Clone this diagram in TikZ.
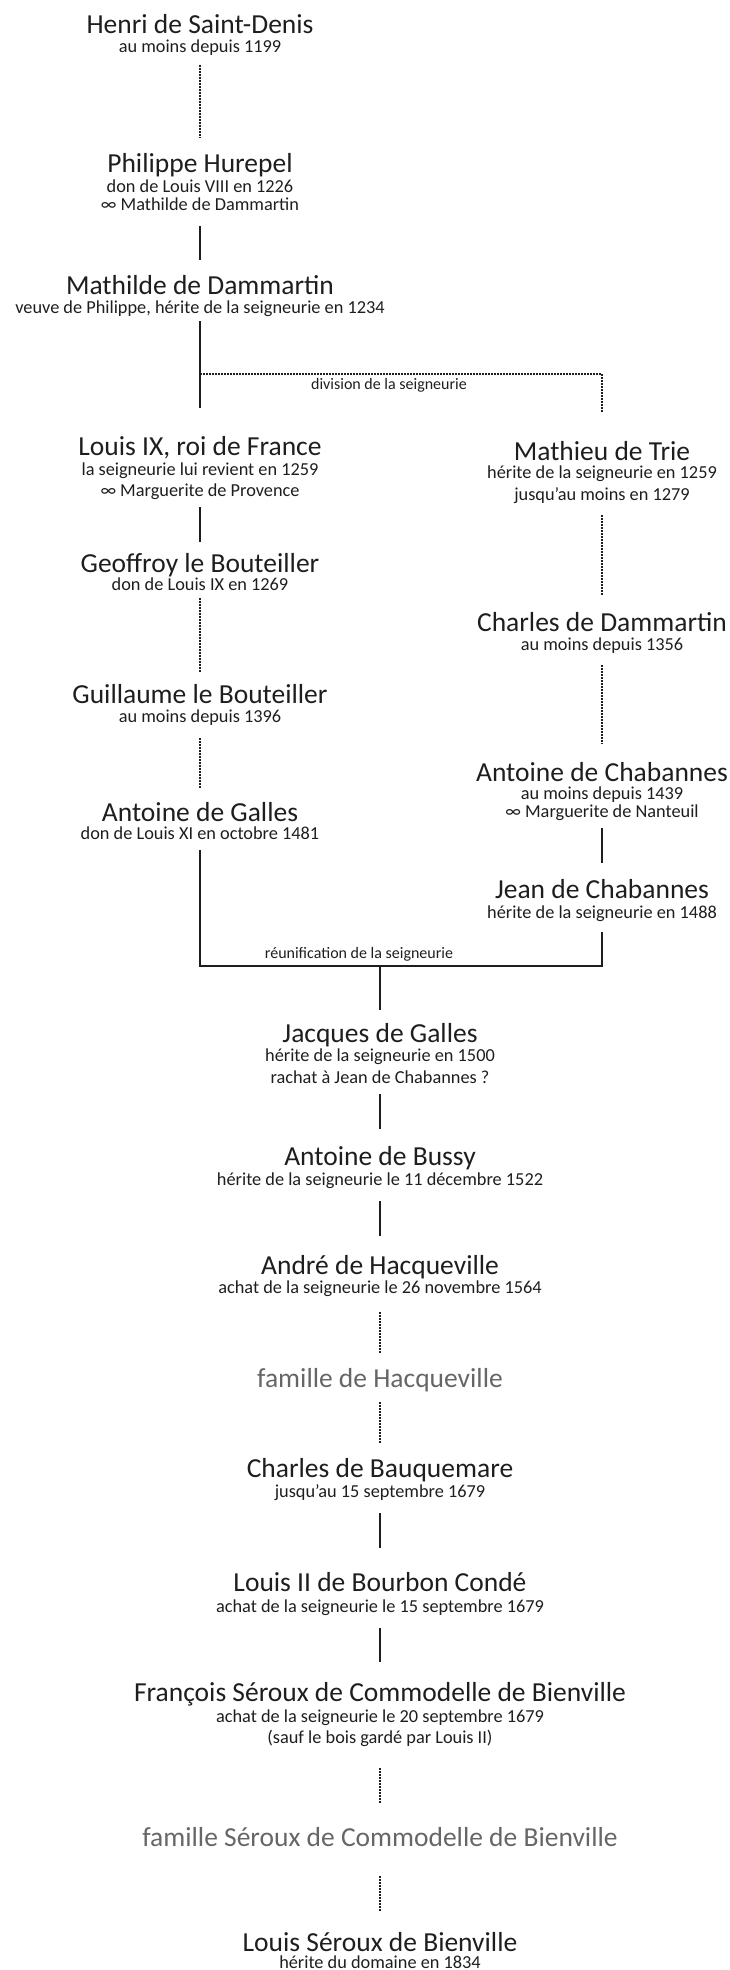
\documentclass[tikz,border=0pt]{standalone}
\usepackage{fontspec}
\setmainfont{Carlito}
\definecolor{ink}{HTML}{1E1E1E}
\definecolor{famgray}{HTML}{666666}
\tikzset{
  ttl/.style={font=\fontsize{27.5}{30}\selectfont, text=ink, inner sep=0pt, outer sep=0pt,
              anchor=base, text height=19pt, text depth=6pt},
  fam/.style={ttl, text=famgray},
  sub/.style={font=\fontsize{18.3}{20}\selectfont, text=ink, inner sep=0pt, outer sep=0pt,
              anchor=base, text height=13pt, text depth=4.5pt},
  lbl/.style={font=\fontsize{16}{18}\selectfont, text=ink, inner sep=0pt, outer sep=0pt,
              anchor=base, text height=11.5pt, text depth=3.8pt},
  solidline/.style={draw=ink, line width=1.3pt},
  dotline/.style={draw=ink, line width=1.2pt, dash pattern=on 1.5pt off 1.5pt},
}
\begin{document}
\begin{tikzpicture}[x=1pt, y=-1pt]
\useasboundingbox (0,0) rectangle (729,1970);

% ---------- left column ----------
\node[ttl] (henri) at (200,33) {Henri de Saint-Denis};
\node[sub] (henri1) at (200,52.5) {au moins depuis 1199};

\node[ttl] (philippe) at (200,172) {Philippe Hurepel};
\node[sub] (philippe1) at (200,192.5) {don de Louis VIII en 1226};
\node[sub] (philippe2) at (200,210) {∞ Mathilde de Dammartin};

\node[ttl] (mathilde) at (200,294) {Mathilde de Dammartin};
\node[sub] (mathilde1) at (200,313.5) {veuve de Philippe, hérite de la seigneurie en 1234};

\node[lbl] (division) at (389,389) {division de la seigneurie};

\node[ttl] (louis9) at (200,455) {Louis IX, roi de France};
\node[sub] (louis91) at (200,475) {la seigneurie lui revient en 1259};
\node[sub] (louis92) at (200,496) {∞ Marguerite de Provence};

\node[ttl] (geoffroy) at (200,572) {Geoffroy le Bouteiller};
\node[sub] (geoffroy1) at (200,590) {don de Louis IX en 1269};

\node[ttl] (guillaume) at (200,703) {Guillaume le Bouteiller};
\node[sub] (guillaume1) at (200,722) {au moins depuis 1396};

\node[ttl] (antoineg) at (200,821) {Antoine de Galles};
\node[sub] (antoineg1) at (200,839) {don de Louis XI en octobre 1481};

% ---------- right column ----------
\node[ttl] (mathieu) at (602,460) {Mathieu de Trie};
\node[sub] (mathieu1) at (602,478) {hérite de la seigneurie en 1259};
\node[sub] (mathieu2) at (602,500) {jusqu’au moins en 1279};

\node[ttl] (charles) at (602,631) {Charles de Dammartin};
\node[sub] (charles1) at (602,650) {au moins depuis 1356};

\node[ttl] (antoinec) at (602,781) {Antoine de Chabannes};
\node[sub] (antoinec1) at (602,799) {au moins depuis 1439};
\node[sub] (antoinec2) at (602,817) {∞ Marguerite de Nanteuil};

\node[ttl] (jean) at (602,898) {Jean de Chabannes};
\node[sub] (jean1) at (602,918) {hérite de la seigneurie en 1488};

\node[lbl] (reunif) at (359,958) {réunification de la seigneurie};

% ---------- centre column ----------
\node[ttl] (jacques) at (380,1042) {Jacques de Galles};
\node[sub] (jacques1) at (380,1061) {hérite de la seigneurie en 1500};
\node[sub] (jacques2) at (380,1083) {rachat à Jean de Chabannes ?};

\node[ttl] (bussy) at (380,1165) {Antoine de Bussy};
\node[sub] (bussy1) at (380,1185) {hérite de la seigneurie le 11 décembre 1522};

\node[ttl] (andre) at (380,1274) {André de Hacqueville};
\node[sub] (andre1) at (380,1293) {achat de la seigneurie le 26 novembre 1564};

\node[fam] (famhac) at (380,1387) {famille de Hacqueville};

\node[ttl] (bauquemare) at (380,1477) {Charles de Bauquemare};
\node[sub] (bauquemare1) at (380,1497) {jusqu’au 15 septembre 1679};

\node[ttl] (conde) at (380,1591) {Louis II de Bourbon Condé};
\node[sub] (conde1) at (380,1612) {achat de la seigneurie le 15 septembre 1679};

\node[ttl] (francois) at (380,1701) {François Séroux de Commodelle de Bienville};
\node[sub] (francois1) at (380,1722) {achat de la seigneurie le 20 septembre 1679};
\node[sub] (francois2) at (380,1743) {(sauf le bois gardé par Louis II)};

\node[fam] (famser) at (380,1846) {famille Séroux de Commodelle de Bienville};

\node[ttl] (louisser) at (380,1951) {Louis Séroux de Bienville};
\node[sub] (louisser1) at (380,1968) {hérite du domaine en 1834};

% ---------- connectors ----------
\coordinate (split) at (200,374);
\coordinate (join) at (380,966);

\draw[dotline, shorten <=8pt, shorten >=15pt] (henri1.south) -- (philippe.north);
\draw[solidline, shorten <=11.5pt, shorten >=15pt] (philippe2.south) -- (mathilde.north);
\draw[solidline, shorten <=3pt, shorten >=28pt] (mathilde1.south) -- (louis9.north);
\draw[dotline, shorten >=28pt] (split) -| (mathieu.north);
\draw[solidline, shorten <=6.5pt, shorten >=11pt] (louis92.south) -- (geoffroy.north);
\draw[dotline, shorten <=3.5pt, shorten >=12pt] (geoffroy1.south) -- (guillaume.north);
\draw[dotline, shorten <=11.5pt, shorten >=14pt] (guillaume1.south) -- (antoineg.north);

\draw[dotline, shorten <=10.5pt, shorten >=17pt] (mathieu2.south) -- (charles.north);
\draw[dotline, shorten <=10.5pt, shorten >=18pt] (charles1.south) -- (antoinec.north);
\draw[solidline, shorten <=6.5pt, shorten >=16pt] (antoinec2.south) -- (jean.north);

\draw[solidline, shorten <=6.5pt, shorten >=9.5pt] (antoineg1.south) |- (join) -| (jean1.south);
\draw[solidline, shorten >=13pt] (join) -- (jacques.north);

\draw[solidline, shorten <=6.5pt, shorten >=17pt] (jacques2.south) -- (bussy.north);
\draw[solidline, shorten <=11.5pt, shorten >=19pt] (bussy1.south) -- (andre.north);
\draw[dotline, shorten <=14.5pt, shorten >=15pt] (andre1.south) -- (famhac.north);
\draw[dotline, shorten <=9pt, shorten >=15pt] (famhac.south) -- (bauquemare.north);
\draw[solidline, shorten <=11.5pt, shorten >=24pt] (bauquemare1.south) -- (conde.north);
\draw[solidline, shorten <=11.5pt, shorten >=20pt] (conde1.south) -- (francois.north);
\draw[dotline, shorten <=20.5pt, shorten >=24pt] (francois2.south) -- (famser.north);
\draw[dotline, shorten <=24pt, shorten >=21pt] (famser.south) -- (louisser.north);
\end{tikzpicture}
\end{document}
